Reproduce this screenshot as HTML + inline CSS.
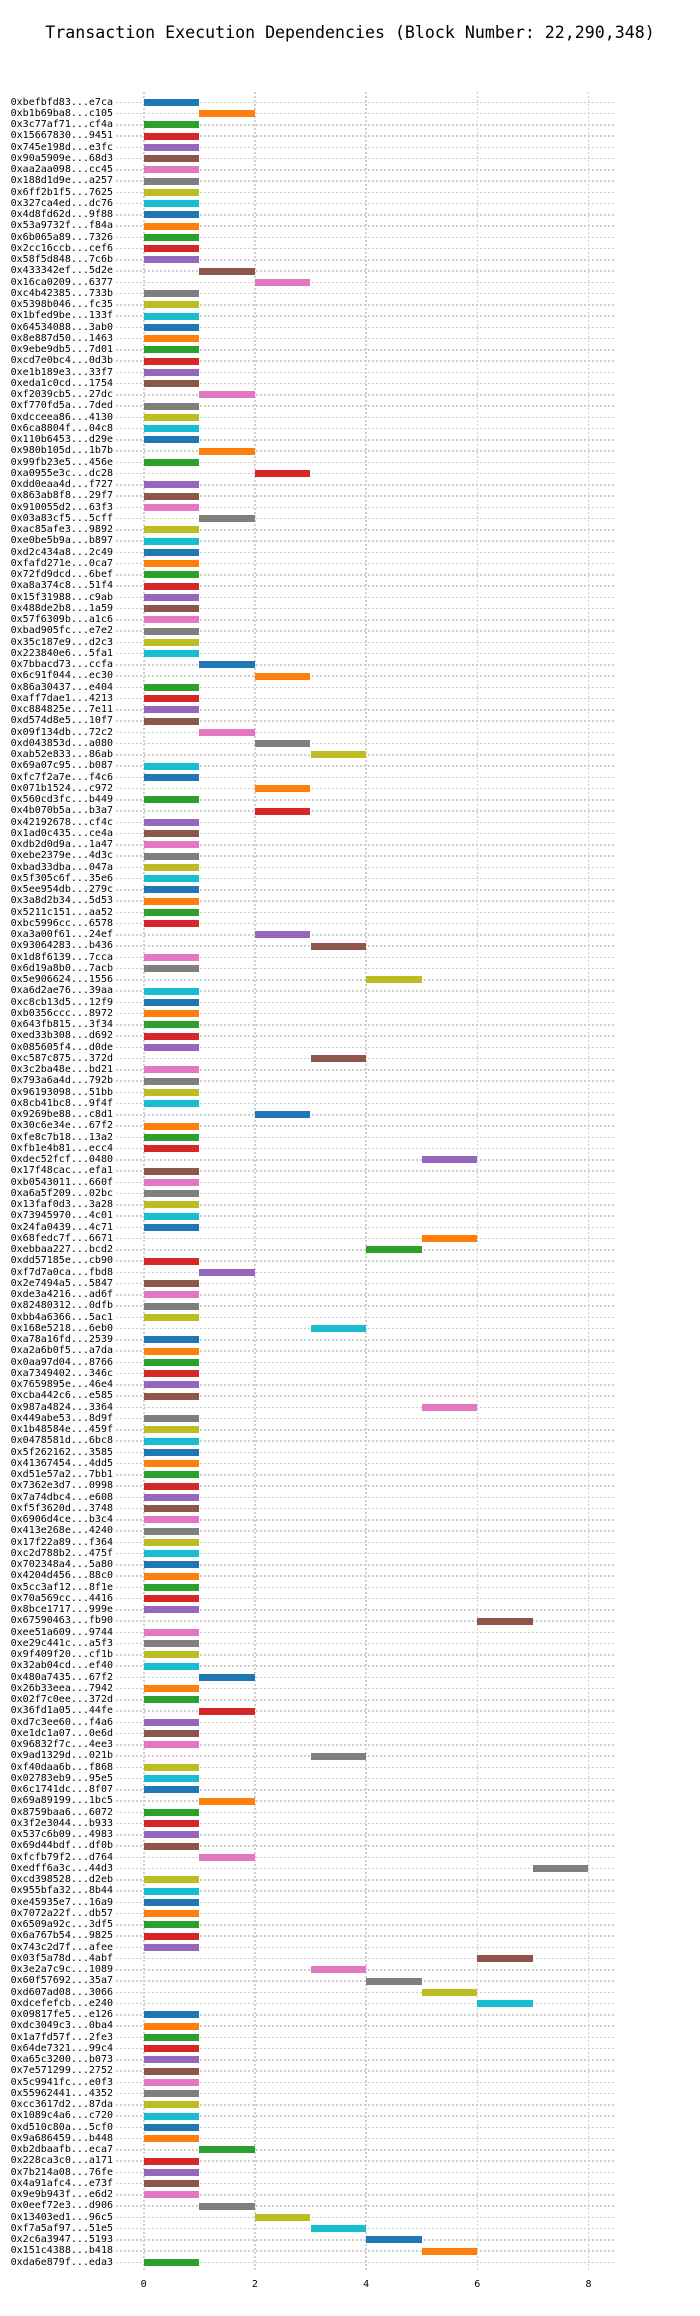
<!DOCTYPE html>
<html><head><meta charset="utf-8"><style>
html,body{margin:0;padding:0;background:#fff;}
body{width:700px;height:2316px;position:relative;overflow:hidden;font-family:"DejaVu Sans Mono","Liberation Mono",monospace;color:#000;}
.title{position:absolute;top:23px;left:0;width:700px;text-align:center;font-size:16.6px;white-space:nowrap;}
.vg{position:absolute;top:92px;height:2180px;width:1.5px;background:repeating-linear-gradient(180deg,#cfcfcf 0 2px,transparent 2px 4px);}
.rows{position:absolute;top:96.67px;left:0;width:700px;}
.r{position:relative;height:11.262px;}
.r:before{content:"";position:absolute;left:116px;width:500px;top:5.0px;height:1.5px;background:repeating-linear-gradient(90deg,#cfcfcf 0 2px,transparent 2px 4px);}
.r b{position:absolute;right:587px;top:0;font-weight:normal;font-size:10px;line-height:11.262px;white-space:nowrap;}
.r i{position:absolute;left:143.7px;width:55.6px;top:2.1px;height:7px;background:#1f77b4;}
.s1 i{left:199.3px}.s2 i{left:254.9px}.s3 i{left:310.5px}.s4 i{left:366.1px}.s5 i{left:421.7px}.s6 i{left:477.3px}.s7 i{left:532.9px}
.r:nth-child(10n+1) i{background:#1f77b4}
.r:nth-child(10n+2) i{background:#ff7f0e}
.r:nth-child(10n+3) i{background:#2ca02c}
.r:nth-child(10n+4) i{background:#d62728}
.r:nth-child(10n+5) i{background:#9467bd}
.r:nth-child(10n+6) i{background:#8c564b}
.r:nth-child(10n+7) i{background:#e377c2}
.r:nth-child(10n+8) i{background:#7f7f7f}
.r:nth-child(10n+9) i{background:#bcbd22}
.r:nth-child(10n+10) i{background:#17becf}
.tk{position:absolute;top:2279px;font-size:10px;width:20px;margin-left:-10px;text-align:center;}
</style></head><body>
<div class="title">Transaction Execution Dependencies (Block Number: 22,290,348)</div>
<div class="vg" style="left:143px"></div>
<div class="vg" style="left:254.2px"></div>
<div class="vg" style="left:365.4px"></div>
<div class="vg" style="left:476.6px"></div>
<div class="vg" style="left:587.8px"></div>
<div class="rows">
<div class="r"><b>0xbefbfd83...e7ca</b><i></i></div>
<div class="r s1"><b>0xb1b69ba8...c105</b><i></i></div>
<div class="r"><b>0x3c77af71...cf4a</b><i></i></div>
<div class="r"><b>0x15667830...9451</b><i></i></div>
<div class="r"><b>0x745e198d...e3fc</b><i></i></div>
<div class="r"><b>0x90a5909e...68d3</b><i></i></div>
<div class="r"><b>0xaa2aa098...cc45</b><i></i></div>
<div class="r"><b>0x188d1d9e...a257</b><i></i></div>
<div class="r"><b>0x6ff2b1f5...7625</b><i></i></div>
<div class="r"><b>0x327ca4ed...dc76</b><i></i></div>
<div class="r"><b>0x4d8fd62d...9f88</b><i></i></div>
<div class="r"><b>0x53a9732f...f84a</b><i></i></div>
<div class="r"><b>0x6b065a89...7326</b><i></i></div>
<div class="r"><b>0x2cc16ccb...cef6</b><i></i></div>
<div class="r"><b>0x58f5d848...7c6b</b><i></i></div>
<div class="r s1"><b>0x433342ef...5d2e</b><i></i></div>
<div class="r s2"><b>0x16ca0209...6377</b><i></i></div>
<div class="r"><b>0xc4b42385...733b</b><i></i></div>
<div class="r"><b>0x5398b046...fc35</b><i></i></div>
<div class="r"><b>0x1bfed9be...133f</b><i></i></div>
<div class="r"><b>0x64534088...3ab0</b><i></i></div>
<div class="r"><b>0x8e887d50...1463</b><i></i></div>
<div class="r"><b>0x9ebe9db5...7d01</b><i></i></div>
<div class="r"><b>0xcd7e0bc4...0d3b</b><i></i></div>
<div class="r"><b>0xe1b189e3...33f7</b><i></i></div>
<div class="r"><b>0xeda1c0cd...1754</b><i></i></div>
<div class="r s1"><b>0xf2039cb5...27dc</b><i></i></div>
<div class="r"><b>0xf770fd5a...7ded</b><i></i></div>
<div class="r"><b>0xdcceea86...4130</b><i></i></div>
<div class="r"><b>0x6ca8804f...04c8</b><i></i></div>
<div class="r"><b>0x110b6453...d29e</b><i></i></div>
<div class="r s1"><b>0x980b105d...1b7b</b><i></i></div>
<div class="r"><b>0x99fb23e5...456e</b><i></i></div>
<div class="r s2"><b>0xa0955e3c...dc28</b><i></i></div>
<div class="r"><b>0xdd0eaa4d...f727</b><i></i></div>
<div class="r"><b>0x863ab8f8...29f7</b><i></i></div>
<div class="r"><b>0x910055d2...63f3</b><i></i></div>
<div class="r s1"><b>0x03a83cf5...5cff</b><i></i></div>
<div class="r"><b>0xac85afe3...9892</b><i></i></div>
<div class="r"><b>0xe0be5b9a...b897</b><i></i></div>
<div class="r"><b>0xd2c434a8...2c49</b><i></i></div>
<div class="r"><b>0xfafd271e...0ca7</b><i></i></div>
<div class="r"><b>0x72fd9dcd...6bef</b><i></i></div>
<div class="r"><b>0xa8a374c8...51f4</b><i></i></div>
<div class="r"><b>0x15f31988...c9ab</b><i></i></div>
<div class="r"><b>0x488de2b8...1a59</b><i></i></div>
<div class="r"><b>0x57f6309b...a1c6</b><i></i></div>
<div class="r"><b>0xbad905fc...e7e2</b><i></i></div>
<div class="r"><b>0x35c187e9...d2c3</b><i></i></div>
<div class="r"><b>0x223840e6...5fa1</b><i></i></div>
<div class="r s1"><b>0x7bbacd73...ccfa</b><i></i></div>
<div class="r s2"><b>0x6c91f044...ec30</b><i></i></div>
<div class="r"><b>0x86a30437...e404</b><i></i></div>
<div class="r"><b>0xaff7dae1...4213</b><i></i></div>
<div class="r"><b>0xc884825e...7e11</b><i></i></div>
<div class="r"><b>0xd574d8e5...10f7</b><i></i></div>
<div class="r s1"><b>0x09f134db...72c2</b><i></i></div>
<div class="r s2"><b>0xd043853d...a080</b><i></i></div>
<div class="r s3"><b>0xab52e833...86ab</b><i></i></div>
<div class="r"><b>0x69a07c95...b087</b><i></i></div>
<div class="r"><b>0xfc7f2a7e...f4c6</b><i></i></div>
<div class="r s2"><b>0x071b1524...c972</b><i></i></div>
<div class="r"><b>0x560cd3fc...b449</b><i></i></div>
<div class="r s2"><b>0x4b070b5a...b3a7</b><i></i></div>
<div class="r"><b>0x42192678...cf4c</b><i></i></div>
<div class="r"><b>0x1ad0c435...ce4a</b><i></i></div>
<div class="r"><b>0xdb2d0d9a...1a47</b><i></i></div>
<div class="r"><b>0xebe2379e...4d3c</b><i></i></div>
<div class="r"><b>0xbad33dba...047a</b><i></i></div>
<div class="r"><b>0x5f305c6f...35e6</b><i></i></div>
<div class="r"><b>0x5ee954db...279c</b><i></i></div>
<div class="r"><b>0x3a8d2b34...5d53</b><i></i></div>
<div class="r"><b>0x5211c151...aa52</b><i></i></div>
<div class="r"><b>0xbc5996cc...6578</b><i></i></div>
<div class="r s2"><b>0xa3a00f61...24ef</b><i></i></div>
<div class="r s3"><b>0x93064283...b436</b><i></i></div>
<div class="r"><b>0x1d8f6139...7cca</b><i></i></div>
<div class="r"><b>0x6d19a8b0...7acb</b><i></i></div>
<div class="r s4"><b>0x5e906624...1556</b><i></i></div>
<div class="r"><b>0xa6d2ae76...39aa</b><i></i></div>
<div class="r"><b>0xc8cb13d5...12f9</b><i></i></div>
<div class="r"><b>0xb0356ccc...8972</b><i></i></div>
<div class="r"><b>0x643fb815...3f34</b><i></i></div>
<div class="r"><b>0xed33b308...d692</b><i></i></div>
<div class="r"><b>0x085605f4...d0de</b><i></i></div>
<div class="r s3"><b>0xc587c875...372d</b><i></i></div>
<div class="r"><b>0x3c2ba48e...bd21</b><i></i></div>
<div class="r"><b>0x793a6a4d...792b</b><i></i></div>
<div class="r"><b>0x96193098...51bb</b><i></i></div>
<div class="r"><b>0x8cb41bc8...9f4f</b><i></i></div>
<div class="r s2"><b>0x9269be88...c8d1</b><i></i></div>
<div class="r"><b>0x30c6e34e...67f2</b><i></i></div>
<div class="r"><b>0xfe8c7b18...13a2</b><i></i></div>
<div class="r"><b>0xfb1e4b81...ecc4</b><i></i></div>
<div class="r s5"><b>0xdec52fcf...0480</b><i></i></div>
<div class="r"><b>0x17f48cac...efa1</b><i></i></div>
<div class="r"><b>0xb0543011...660f</b><i></i></div>
<div class="r"><b>0xa6a5f209...02bc</b><i></i></div>
<div class="r"><b>0x13faf0d3...3a28</b><i></i></div>
<div class="r"><b>0x73945970...4c01</b><i></i></div>
<div class="r"><b>0x24fa0439...4c71</b><i></i></div>
<div class="r s5"><b>0x68fedc7f...6671</b><i></i></div>
<div class="r s4"><b>0xebbaa227...bcd2</b><i></i></div>
<div class="r"><b>0xdd57185e...cb90</b><i></i></div>
<div class="r s1"><b>0xf7d7a0ca...fbd8</b><i></i></div>
<div class="r"><b>0x2e7494a5...5847</b><i></i></div>
<div class="r"><b>0xde3a4216...ad6f</b><i></i></div>
<div class="r"><b>0x82480312...0dfb</b><i></i></div>
<div class="r"><b>0xbb4a6366...5ac1</b><i></i></div>
<div class="r s3"><b>0x168e5218...6eb0</b><i></i></div>
<div class="r"><b>0xa78a16fd...2539</b><i></i></div>
<div class="r"><b>0xa2a6b0f5...a7da</b><i></i></div>
<div class="r"><b>0x0aa97d04...8766</b><i></i></div>
<div class="r"><b>0xa7349402...346c</b><i></i></div>
<div class="r"><b>0x7659895e...46e4</b><i></i></div>
<div class="r"><b>0xcba442c6...e585</b><i></i></div>
<div class="r s5"><b>0x987a4824...3364</b><i></i></div>
<div class="r"><b>0x449abe53...8d9f</b><i></i></div>
<div class="r"><b>0x1b48584e...459f</b><i></i></div>
<div class="r"><b>0x0478581d...6bc8</b><i></i></div>
<div class="r"><b>0x5f262162...3585</b><i></i></div>
<div class="r"><b>0x41367454...4dd5</b><i></i></div>
<div class="r"><b>0xd51e57a2...7bb1</b><i></i></div>
<div class="r"><b>0x7362e3d7...0998</b><i></i></div>
<div class="r"><b>0x7a74dbc4...e608</b><i></i></div>
<div class="r"><b>0xf5f3620d...3748</b><i></i></div>
<div class="r"><b>0x6906d4ce...b3c4</b><i></i></div>
<div class="r"><b>0x413e268e...4240</b><i></i></div>
<div class="r"><b>0x17f22a89...f364</b><i></i></div>
<div class="r"><b>0xc2d788b2...475f</b><i></i></div>
<div class="r"><b>0x702348a4...5a80</b><i></i></div>
<div class="r"><b>0x4204d456...88c0</b><i></i></div>
<div class="r"><b>0x5cc3af12...8f1e</b><i></i></div>
<div class="r"><b>0x70a569cc...4416</b><i></i></div>
<div class="r"><b>0x8bce1717...999e</b><i></i></div>
<div class="r s6"><b>0x67590463...fb90</b><i></i></div>
<div class="r"><b>0xee51a609...9744</b><i></i></div>
<div class="r"><b>0xe29c441c...a5f3</b><i></i></div>
<div class="r"><b>0x9f409f20...cf1b</b><i></i></div>
<div class="r"><b>0x32ab04cd...ef40</b><i></i></div>
<div class="r s1"><b>0x480a7435...67f2</b><i></i></div>
<div class="r"><b>0x26b33eea...7942</b><i></i></div>
<div class="r"><b>0x02f7c0ee...372d</b><i></i></div>
<div class="r s1"><b>0x36fd1a05...44fe</b><i></i></div>
<div class="r"><b>0xd7c3ee60...f4a6</b><i></i></div>
<div class="r"><b>0xe1dc1a07...0e6d</b><i></i></div>
<div class="r"><b>0x96832f7c...4ee3</b><i></i></div>
<div class="r s3"><b>0x9ad1329d...021b</b><i></i></div>
<div class="r"><b>0xf40daa6b...f868</b><i></i></div>
<div class="r"><b>0x02783eb9...95e5</b><i></i></div>
<div class="r"><b>0x6c1741dc...8f07</b><i></i></div>
<div class="r s1"><b>0x69a89199...1bc5</b><i></i></div>
<div class="r"><b>0x8759baa6...6072</b><i></i></div>
<div class="r"><b>0x3f2e3044...b933</b><i></i></div>
<div class="r"><b>0x537c6b09...4983</b><i></i></div>
<div class="r"><b>0x69d44bdf...df0b</b><i></i></div>
<div class="r s1"><b>0xfcfb79f2...d764</b><i></i></div>
<div class="r s7"><b>0xedff6a3c...44d3</b><i></i></div>
<div class="r"><b>0xcd398528...d2eb</b><i></i></div>
<div class="r"><b>0x955bfa32...8b44</b><i></i></div>
<div class="r"><b>0xe45935e7...16a9</b><i></i></div>
<div class="r"><b>0x7072a22f...db57</b><i></i></div>
<div class="r"><b>0x6509a92c...3df5</b><i></i></div>
<div class="r"><b>0x6a767b54...9825</b><i></i></div>
<div class="r"><b>0x743c2d7f...afee</b><i></i></div>
<div class="r s6"><b>0x03f5a78d...4abf</b><i></i></div>
<div class="r s3"><b>0x3e2a7c9c...1089</b><i></i></div>
<div class="r s4"><b>0x60f57692...35a7</b><i></i></div>
<div class="r s5"><b>0xd607ad08...3066</b><i></i></div>
<div class="r s6"><b>0xdcefefcb...e240</b><i></i></div>
<div class="r"><b>0x09817fe5...e126</b><i></i></div>
<div class="r"><b>0xdc3049c3...0ba4</b><i></i></div>
<div class="r"><b>0x1a7fd57f...2fe3</b><i></i></div>
<div class="r"><b>0x64de7321...99c4</b><i></i></div>
<div class="r"><b>0xa65c3200...b073</b><i></i></div>
<div class="r"><b>0x7e571299...2752</b><i></i></div>
<div class="r"><b>0x5c9941fc...e0f3</b><i></i></div>
<div class="r"><b>0x55962441...4352</b><i></i></div>
<div class="r"><b>0xcc3617d2...87da</b><i></i></div>
<div class="r"><b>0x1089c4a6...c720</b><i></i></div>
<div class="r"><b>0xd510c80a...5cf0</b><i></i></div>
<div class="r"><b>0x9a686459...b448</b><i></i></div>
<div class="r s1"><b>0xb2dbaafb...eca7</b><i></i></div>
<div class="r"><b>0x228ca3c0...a171</b><i></i></div>
<div class="r"><b>0x7b214a08...76fe</b><i></i></div>
<div class="r"><b>0x4a91afc4...e73f</b><i></i></div>
<div class="r"><b>0x9e9b943f...e6d2</b><i></i></div>
<div class="r s1"><b>0x0eef72e3...d906</b><i></i></div>
<div class="r s2"><b>0x13403ed1...96c5</b><i></i></div>
<div class="r s3"><b>0xf7a5af97...51e5</b><i></i></div>
<div class="r s4"><b>0x2c6a3947...5193</b><i></i></div>
<div class="r s5"><b>0x151c4388...b418</b><i></i></div>
<div class="r"><b>0xda6e879f...eda3</b><i></i></div>
</div>
<div class="tk" style="left:143.7px">0</div>
<div class="tk" style="left:254.9px">2</div>
<div class="tk" style="left:366.1px">4</div>
<div class="tk" style="left:477.3px">6</div>
<div class="tk" style="left:588.5px">8</div>
</body></html>
